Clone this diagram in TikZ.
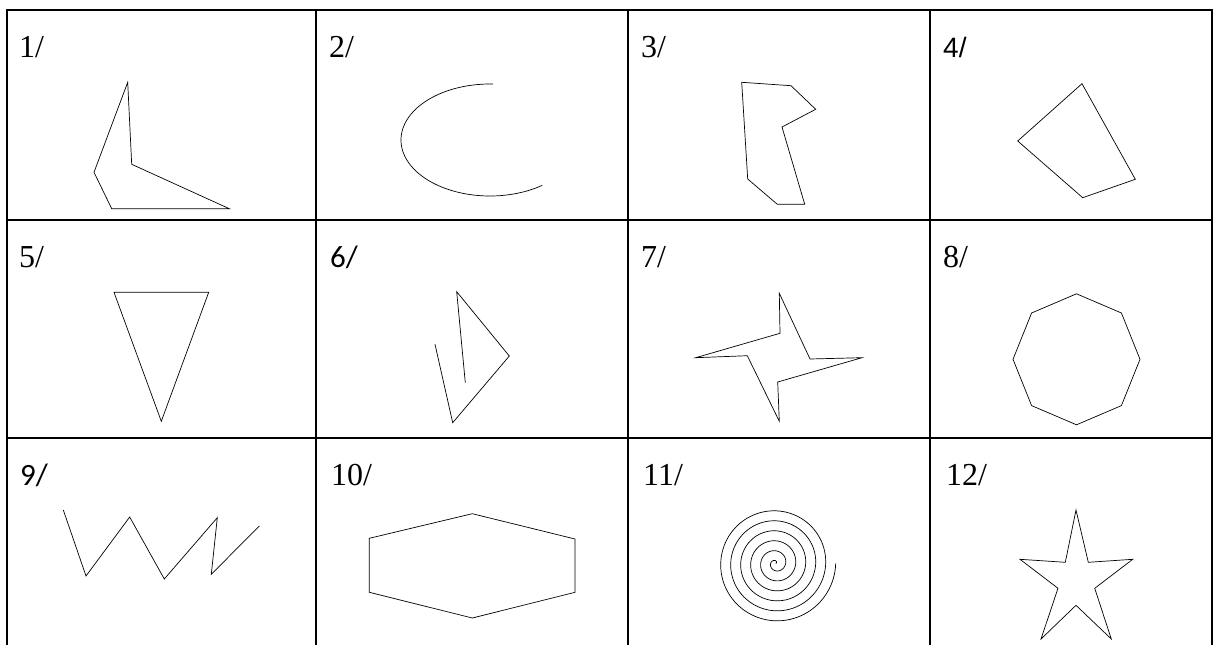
\documentclass[tikz,border=0pt]{standalone}
\usepackage{fontspec}
\setmainfont{Liberation Serif}
\newfontfamily\arialf{Liberation Sans}
\newfontfamily\calf{Carlito}
\begin{document}
\begin{tikzpicture}[x=1pt,y=-1pt,
  gridline/.style={line width=2pt, line cap=rect},
  fig/.style={line width=0.7pt, line join=miter},
  lbl/.style={anchor=base west, inner sep=0pt, font=\fontsize{32}{32}\selectfont}]
\useasboundingbox (0,0) rectangle (1213,645);
% grid
\draw[gridline] (7,10) -- (1212,10);
\draw[gridline] (7,219.5) -- (1212,219.5);
\draw[gridline] (7,437.5) -- (1212,437.5);
\foreach \xx in {7,316,628,930,1212} \draw[gridline] (\xx,10) -- (\xx,646);
% labels
\node[lbl] (l1) at (19,57) {1/};
\node[lbl] (l2) at (329,57) {2/};
\node[lbl] (l3) at (641,57) {3/};
\node[lbl, font=\arialf\fontsize{28}{28}\selectfont] (l4) at (943,57) {4/};
\node[lbl] (l5) at (19,267) {5/};
\node[lbl, font=\calf\fontsize{31}{31}\selectfont] (l6) at (330,267) {6/};
\node[lbl] (l7) at (641,267) {7/};
\node[lbl] (l8) at (943,267) {8/};
\node[lbl, font=\calf\fontsize{31}{31}\selectfont] (l9) at (20,485) {9/};
\node[lbl] (l10) at (331,485) {10/};
\node[lbl] (l11) at (643,485) {11/};
\node[lbl] (l12) at (946,485) {12/};
% 1
\draw[fig] (127.7,82.3) -- (131.7,164.3) -- (229.3,208.7) -- (111.7,208.7) -- (94,172.3) -- cycle;
% 2
\draw[fig] plot[domain=88:306, samples=120, variable=\t] ({490+89*cos(\t)},{140-56*sin(\t)});
% 3
\draw[fig] (741.7,82.3) -- (791,85.7) -- (815.7,109.3) -- (782,127) -- (804.7,204.3) -- (777.3,204.3) -- (747.7,179) -- cycle;
% 4
\draw[fig] (1082,83.7) -- (1135.3,179.3) -- (1082.7,197.7) -- (1017.7,141) -- cycle;
% 5
\draw[fig] (114,292.3) -- (208.7,292.3) -- (161.3,421.3) -- cycle;
% 6
\draw[fig] (435,344.3) -- (452.7,422.7) -- (509.3,356) -- (456.7,291.7) -- (465.3,382.7);
% 7
\draw[fig] (779.3,293.3) -- (810,359) -- (862,357.7) -- (777.7,382) -- (779.3,421.3) -- (747.3,355.7) -- (695.7,357.7) -- (780,333.3) -- cycle;
% 8
\draw[fig] ({1076.5+63.5*cos(90)},{359.3-65.5*sin(90)})
  \foreach \a in {135,180,...,405} { -- ({1076.5+63.5*cos(\a)},{359.3-65.5*sin(\a)}) } -- cycle;
% 9
\draw[fig] (63.3,510) -- (86,576) -- (129.7,517) -- (164.3,579) -- (217.3,517.7) -- (211.3,574.3) -- (259.3,526);
% 10
\draw[fig] (472.3,513.7) -- (575,539) -- (575,592.3) -- (472.3,618) -- (369.3,592.3) -- (369.3,538.3) -- cycle;
% 11
\draw[fig] plot[domain=0:2160, samples=600, variable=\t] ({775.7+(\t/36)*cos(\t)},{563.3-(\t/36)*sin(\t)});
% 12
\draw[fig] (1076,510) -- (1088.3,562.3) -- (1132.7,559.3) -- (1094.7,588.3) -- (1111.3,639) -- (1076,605.3) -- (1041,639) -- (1058,588.3) -- (1020,559.3) -- (1065.3,562.3) -- cycle;
\end{tikzpicture}
\end{document}
